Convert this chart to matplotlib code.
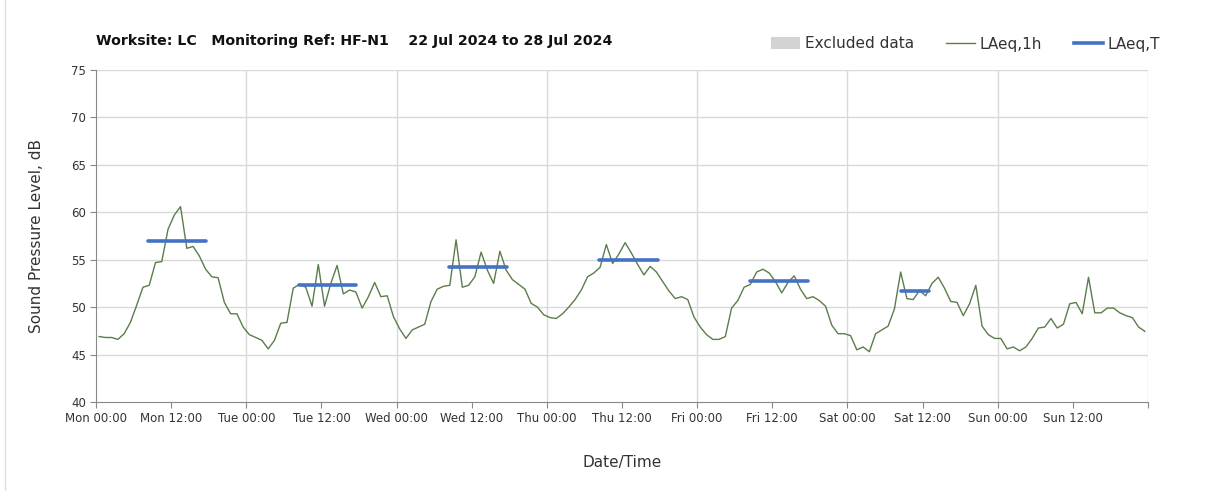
import numpy as np
import matplotlib.pyplot as plt
from matplotlib.lines import Line2D
from matplotlib.patches import Patch

# hourly LAeq,1h readings (dB), Mon 00:00 -> Sun 23:00
mon = [46.9, 46.8, 46.8, 46.6, 47.2, 48.4, 50.2, 52.1, 52.3, 54.7, 54.8, 58.2,
       59.7, 60.6, 56.2, 56.4, 55.4, 54.0, 53.2, 53.1, 50.5, 49.3, 49.3, 47.9]
tue = [47.1, 46.8, 46.5, 45.6, 46.5, 48.3, 48.4, 52.0, 52.4, 52.1, 50.1, 54.5,
       50.1, 52.5, 54.4, 51.4, 51.8, 51.6, 49.9, 51.1, 52.6, 51.1, 51.2, 49.0]
wed = [47.7, 46.7, 47.6, 47.9, 48.2, 50.6, 51.9, 52.2, 52.3, 57.1, 52.1, 52.3,
       53.2, 55.8, 53.9, 52.5, 55.9, 53.9, 52.9, 52.4, 51.9, 50.4, 50.0, 49.2]
thu = [48.9, 48.8, 49.3, 50.0, 50.8, 51.8, 53.2, 53.6, 54.2, 56.6, 54.6, 55.6,
       56.8, 55.7, 54.5, 53.4, 54.3, 53.7, 52.7, 51.7, 50.9, 51.1, 50.8, 48.95]
fri = [47.9, 47.1, 46.6, 46.6, 46.9, 49.9, 50.7, 52.1, 52.4, 53.7, 54.0, 53.6,
       52.7, 51.5, 52.6, 53.3, 51.9, 50.9, 51.1, 50.7, 50.1, 48.1, 47.2, 47.2]
sat = [47.0, 45.5, 45.8, 45.3, 47.2, 47.6, 48.0, 49.8, 53.7, 50.9, 50.8, 51.75,
       51.2, 52.5, 53.15, 52.0, 50.6, 50.5, 49.1, 50.35, 52.3, 48.0, 47.1, 46.7]
sun = [46.7, 45.6, 45.8, 45.4, 45.8, 46.7, 47.8, 47.9, 48.8, 47.8, 48.2, 50.35,
       50.5, 49.3, 53.15, 49.4, 49.4, 49.9, 49.9, 49.4, 49.1, 48.9, 47.9, 47.45]
laeq_1h = mon + tue + wed + thu + fri + sat + sun

# daytime LAeq,T per day: (start hour, end hour, level)
laeq_t_start = [8.3, 32.4, 56.4, 80.4, 104.5, 128.5]
laeq_t_end = [17.6, 41.6, 65.7, 89.8, 113.7, 133.0]
laeq_t_val = [57.0, 52.3, 54.2, 55.0, 52.8, 51.75]

days = ['Mon', 'Tue', 'Wed', 'Thu', 'Fri', 'Sat', 'Sun']
tick_labels = [f'{d} {t}' for d in days for t in ['00:00', '12:00']] + ['']

hours = np.arange(len(laeq_1h)) + 0.5

fig = plt.figure(figsize=(12.08, 4.91), dpi=100)
ax = fig.add_axes([96 / 1208, 1 - 402 / 491, (1148 - 96) / 1208, (402 - 70) / 491])

green = '#5b7d4b'
blue = '#4472c4'

ax.plot(hours, laeq_1h, color=green, lw=1.0, zorder=3)
for s, e, v in zip(laeq_t_start, laeq_t_end, laeq_t_val):
    ax.plot([s, e], [v, v], color=blue, lw=2.6, solid_capstyle='round', zorder=4)

ax.set_xlim(0, 168)
ax.set_ylim(40, 75)
ax.set_xticks(np.arange(0, 169, 12))
ax.set_xticklabels(tick_labels, fontsize=8.5, color='#333333')
ax.set_yticks(np.arange(40, 76, 5))
ax.set_yticklabels([str(v) for v in range(40, 76, 5)], fontsize=8.5, color='#333333')
ax.tick_params(axis='both', direction='out', length=4, color='#888888', pad=3)

for v in range(45, 76, 5):
    ax.axhline(v, color='#d9d9d9', lw=1, zorder=1)
for d in range(1, 8):
    ax.axvline(d * 24, color='#d9d9d9', lw=1, zorder=1)

for side in ['top', 'right']:
    ax.spines[side].set_visible(False)
for side in ['left', 'bottom']:
    ax.spines[side].set_color('#888888')

ax.set_xlabel('Date/Time', fontsize=11, color='#333333', labelpad=22)
ax.set_ylabel('Sound Pressure Level, dB', fontsize=11, color='#333333', labelpad=20)

fig.text(96 / 1208, 1 - 41 / 491,
         'Worksite: LC   Monitoring Ref: HF-N1    22 Jul 2024 to 28 Jul 2024',
         fontsize=10.2, fontweight='bold', va='center', ha='left', color='#111111')

handles = [Patch(facecolor='#d3d3d3', edgecolor='none'),
           Line2D([], [], color=green, lw=1.0),
           Line2D([], [], color=blue, lw=2.6)]
fig.legend(handles, ['Excluded data', 'LAeq,1h', 'LAeq,T'], ncol=3,
           loc='center right', bbox_to_anchor=(1 - 34 / 1208, 1 - 44 / 491),
           frameon=False, fontsize=11, handlelength=1.9, handleheight=0.8,
           handletextpad=0.3, columnspacing=2.1, labelcolor='#333333')

fig.add_artist(Line2D([5 / 1208, 5 / 1208], [0, 1], color='#e0e0e0', lw=1))

fig.savefig('out.png', dpi=100)
